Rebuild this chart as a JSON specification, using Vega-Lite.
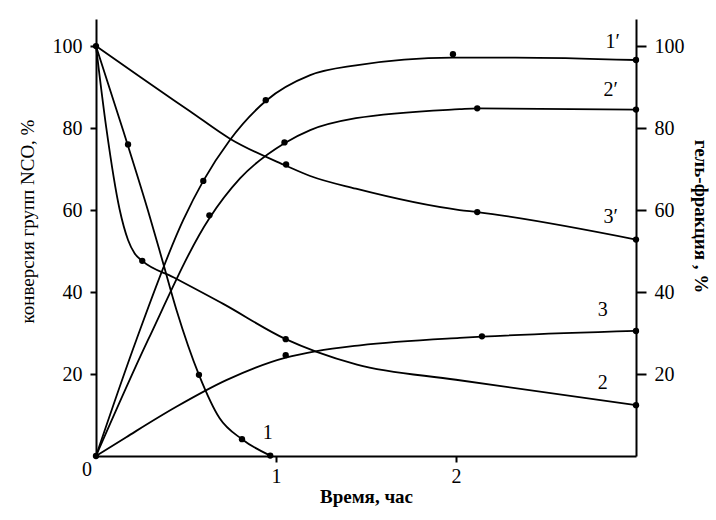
{
  "$schema": "https://vega.github.io/schema/vega-lite/v6.json",
  "width": 540,
  "height": 437,
  "autosize": {"type": "none"},
  "padding": {"left": 96, "top": 19, "right": 80, "bottom": 64},
  "background": "white",
  "config": {
    "view": {"stroke": null},
    "font": "Liberation Serif",
    "axis": {
      "grid": false,
      "domainColor": "black",
      "domainWidth": 2,
      "tickColor": "black",
      "tickWidth": 2,
      "labelFont": "Liberation Serif",
      "labelFontSize": 20,
      "labelColor": "black",
      "titleFont": "Liberation Serif",
      "titleFontSize": 19,
      "titleFontWeight": "normal",
      "titleColor": "black"
    }
  },
  "datasets": {
    "curves": [
      {"curve": "1", "t": 0, "v": 100}, {"curve": "1", "t": 0.15, "v": 79.5}, {"curve": "1", "t": 0.3, "v": 58.2}, {"curve": "1", "t": 0.37, "v": 47.5}, {"curve": "1", "t": 0.448, "v": 35.5}, {"curve": "1", "t": 0.572, "v": 19.8}, {"curve": "1", "t": 0.687, "v": 9.2}, {"curve": "1", "t": 0.811, "v": 4.1}, {"curve": "1", "t": 0.968, "v": 0.1},
      {"curve": "2", "t": 0, "v": 100}, {"curve": "2", "t": 0.057, "v": 80.1}, {"curve": "2", "t": 0.131, "v": 60.2}, {"curve": "2", "t": 0.178, "v": 52.7}, {"curve": "2", "t": 0.215, "v": 49.4}, {"curve": "2", "t": 0.257, "v": 47.6}, {"curve": "2", "t": 0.43, "v": 43.6}, {"curve": "2", "t": 0.707, "v": 37.1}, {"curve": "2", "t": 1.054, "v": 28.5}, {"curve": "2", "t": 1.226, "v": 25.4}, {"curve": "2", "t": 1.45, "v": 22.3}, {"curve": "2", "t": 2.0, "v": 18.6}, {"curve": "2", "t": 3.0, "v": 12.4},
      {"curve": "3", "t": 0, "v": 0}, {"curve": "3", "t": 0.168, "v": 4.6}, {"curve": "3", "t": 0.446, "v": 12.0}, {"curve": "3", "t": 0.724, "v": 18.5}, {"curve": "3", "t": 1.054, "v": 24.0}, {"curve": "3", "t": 1.226, "v": 25.6}, {"curve": "3", "t": 1.467, "v": 27.0}, {"curve": "3", "t": 2.02, "v": 28.8}, {"curve": "3", "t": 2.144, "v": 29.1}, {"curve": "3", "t": 3.0, "v": 30.5},
      {"curve": "1'", "t": 0, "v": 0}, {"curve": "1'", "t": 0.224, "v": 28.3}, {"curve": "1'", "t": 0.485, "v": 57.6}, {"curve": "1'", "t": 0.596, "v": 67.1}, {"curve": "1'", "t": 0.744, "v": 77.1}, {"curve": "1'", "t": 0.943, "v": 86.6}, {"curve": "1'", "t": 1.19, "v": 92.9}, {"curve": "1'", "t": 1.444, "v": 95.3}, {"curve": "1'", "t": 1.98, "v": 97.2}, {"curve": "1'", "t": 2.33, "v": 97.2}, {"curve": "1'", "t": 3.0, "v": 96.6},
      {"curve": "2'", "t": 0, "v": 0}, {"curve": "2'", "t": 0.289, "v": 28.3}, {"curve": "2'", "t": 0.63, "v": 58.0}, {"curve": "2'", "t": 0.8, "v": 67.7}, {"curve": "2'", "t": 1.047, "v": 76.3}, {"curve": "2'", "t": 1.19, "v": 79.5}, {"curve": "2'", "t": 1.444, "v": 82.4}, {"curve": "2'", "t": 2.02, "v": 84.6}, {"curve": "2'", "t": 2.118, "v": 84.8}, {"curve": "2'", "t": 3.0, "v": 84.5},
      {"curve": "3'", "t": 0, "v": 100}, {"curve": "3'", "t": 0.244, "v": 92.5}, {"curve": "3'", "t": 0.522, "v": 84.1}, {"curve": "3'", "t": 0.744, "v": 77.4}, {"curve": "3'", "t": 1.056, "v": 70.8}, {"curve": "3'", "t": 1.19, "v": 68.3}, {"curve": "3'", "t": 1.444, "v": 65.2}, {"curve": "3'", "t": 2.02, "v": 60.0}, {"curve": "3'", "t": 2.118, "v": 59.5}, {"curve": "3'", "t": 3.0, "v": 52.8}
    ],
    "points": [
      {"curve": "0", "t": 0, "v": 100}, {"curve": "0", "t": 0, "v": 0},
      {"curve": "1", "t": 0.178, "v": 76}, {"curve": "1", "t": 0.572, "v": 19.8}, {"curve": "1", "t": 0.811, "v": 4.1}, {"curve": "1", "t": 0.968, "v": 0.1},
      {"curve": "2", "t": 0.257, "v": 47.6}, {"curve": "2", "t": 1.054, "v": 28.5}, {"curve": "2", "t": 3.0, "v": 12.4},
      {"curve": "3", "t": 1.054, "v": 24.6}, {"curve": "3", "t": 2.144, "v": 29.2}, {"curve": "3", "t": 3.0, "v": 30.5},
      {"curve": "1'", "t": 0.596, "v": 67.1}, {"curve": "1'", "t": 0.943, "v": 86.8}, {"curve": "1'", "t": 1.983, "v": 98.0}, {"curve": "1'", "t": 3.0, "v": 96.6},
      {"curve": "2'", "t": 0.63, "v": 58.7}, {"curve": "2'", "t": 1.047, "v": 76.5}, {"curve": "2'", "t": 2.118, "v": 84.8}, {"curve": "2'", "t": 3.0, "v": 84.5},
      {"curve": "3'", "t": 1.056, "v": 71.1}, {"curve": "3'", "t": 2.118, "v": 59.5}, {"curve": "3'", "t": 3.0, "v": 52.8}
    ],
    "labels": [
      {"label": "1′", "t": 2.87, "v": 101.1},
      {"label": "2′", "t": 2.86, "v": 89.3},
      {"label": "3′", "t": 2.86, "v": 58.4},
      {"label": "3", "t": 2.815, "v": 35.6},
      {"label": "2", "t": 2.815, "v": 17.9},
      {"label": "1", "t": 0.954, "v": 5.5}
    ],
    "zero": [{"label": "0", "t": 0, "v": 0}]
  },
  "resolve": {"axis": {"y": "independent"}},
  "layer": [
    {
      "data": {"name": "curves"},
      "mark": {"type": "line", "interpolate": "monotone", "color": "black", "strokeWidth": 1.8},
      "encoding": {
        "x": {"field": "t", "type": "quantitative", "scale": {"domain": [0, 3], "nice": false},
          "axis": {"values": [1, 2], "format": "d", "labelFont": "Liberation Serif", "tickSize": 6, "labelPadding": 4, "title": "Время, час", "titleFontWeight": "bold", "titleY": 40, "titleBaseline": "middle"}},
        "y": {"field": "v", "type": "quantitative", "scale": {"domain": [0, 106.6], "nice": false},
          "axis": {"orient": "left", "values": [20, 40, 60, 80, 100], "format": "d", "labelFont": "Liberation Serif", "tickSize": 6, "labelPadding": 8, "title": "конверсия групп NCO, %", "titleAngle": 270, "titleX": -69, "titleY": 202, "titleBaseline": "middle", "titleAlign": "center"}},
        "detail": {"field": "curve", "type": "nominal"},
        "order": {"field": "t", "type": "quantitative"}
      }
    },
    {
      "data": {"name": "points"},
      "mark": {"type": "point", "filled": true, "color": "black", "opacity": 1, "size": 40},
      "encoding": {
        "x": {"field": "t", "type": "quantitative"},
        "y": {"field": "v", "type": "quantitative", "axis": null}
      }
    },
    {
      "data": {"name": "labels"},
      "mark": {"type": "text", "font": "Liberation Serif", "fontSize": 20, "color": "black", "align": "center", "baseline": "middle"},
      "encoding": {
        "x": {"field": "t", "type": "quantitative"},
        "y": {"field": "v", "type": "quantitative", "axis": null},
        "text": {"field": "label"}
      }
    },
    {
      "data": {"name": "zero"},
      "mark": {"type": "text", "font": "Liberation Serif", "fontSize": 20, "color": "black", "align": "center", "baseline": "middle", "dx": -9, "dy": 14},
      "encoding": {
        "x": {"field": "t", "type": "quantitative"},
        "y": {"field": "v", "type": "quantitative", "axis": null},
        "text": {"field": "label"}
      }
    },
    {
      "data": {"name": "zero"},
      "mark": {"type": "point", "opacity": 0},
      "encoding": {
        "x": {"field": "t", "type": "quantitative"},
        "y": {"field": "v", "type": "quantitative",
          "axis": {"orient": "right", "values": [20, 40, 60, 80, 100], "format": "d", "labelFont": "Liberation Serif", "tickSize": 10, "labelPadding": 8, "title": "гель-фракция , %", "titleFontWeight": "bold", "titleFontSize": 19, "titleAngle": 90, "titleX": 64, "titleY": 197, "titleBaseline": "middle", "titleAlign": "center"}}
      }
    }
  ]
}
